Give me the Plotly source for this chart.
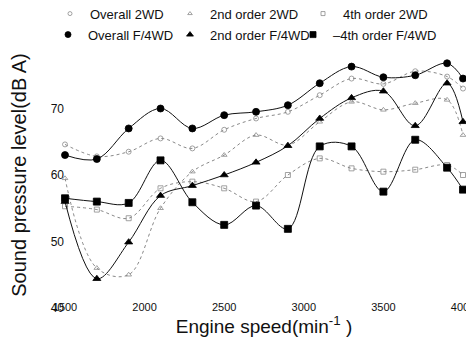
import plotly.graph_objects as go

rpm = [1500, 1700, 1900, 2100, 2300, 2500, 2700, 2900, 3100, 3300, 3500, 3700, 3900, 4000]

overall_2wd = [64.6, 62.8, 63.5, 65.5, 64.0, 66.8, 68.5, 69.5, 72.0, 74.5, 73.7, 75.6, 74.8, 73.0]
order2_2wd = [59.5, 46.0, 45.0, 55.0, 60.5, 63.0, 66.0, 64.5, 68.0, 71.0, 69.8, 70.8, 71.3, 66.0]
order4_2wd = [55.3, 54.8, 53.5, 58.0, 59.0, 58.0, 56.0, 60.0, 62.5, 61.0, 60.5, 60.8, 61.5, 60.0]

overall_f4wd = [63.0, 62.4, 67.0, 70.0, 67.0, 69.0, 69.5, 70.5, 73.8, 76.3, 74.7, 75.0, 76.8, 74.5]
order2_f4wd = [56.0, 44.4, 49.9, 56.9, 58.4, 60.0, 61.9, 64.4, 68.5, 71.6, 72.6, 67.4, 73.8, 68.0]
order4_f4wd = [56.5, 56.0, 55.8, 62.2, 55.9, 52.5, 55.4, 51.9, 64.3, 64.3, 57.5, 65.3, 61.1, 57.8]

names = ["Overall 2WD", "2nd order 2WD", "4th order 2WD",
         "Overall F/4WD", "2nd order F/4WD", "\u20134th order F/4WD"]
series = [overall_2wd, order2_2wd, order4_2wd, overall_f4wd, order2_f4wd, order4_f4wd]
symbols = ["circle-open", "triangle-up-open", "square-open", "circle", "triangle-up", "square"]

fig = go.Figure()
for i, (nm, ys, sym) in enumerate(zip(names, series, symbols)):
    is2wd = i < 3
    col = "#8a8a8a" if is2wd else "#000000"
    fig.add_trace(go.Scatter(
        x=rpm, y=ys, name=nm, mode="lines+markers", showlegend=False,
        line=dict(shape="spline", smoothing=1.0, color="#6a6a6a" if is2wd else "#111111",
                  width=0.8 if is2wd else 1.0, dash="dot" if is2wd else "solid"),
        marker=dict(symbol=sym, size=5 if is2wd else 7, color=col,
                    line=dict(width=0.8, color=col)),
        cliponaxis=False,
    ))

# legend entries (marker only, as in the reference legend), one legend box per entry
leg_ids = ["legend", "legend2", "legend3", "legend4", "legend5", "legend6"]
for i, (nm, sym) in enumerate(zip(names, symbols)):
    is2wd = i < 3
    col = "#8a8a8a" if is2wd else "#000000"
    fig.add_trace(go.Scatter(
        x=[None], y=[None], name=nm, mode="markers", legend=leg_ids[i],
        marker=dict(symbol=sym, size=4 if is2wd else 6, color=col,
                    line=dict(width=0.8, color=col)),
    ))

leg_common = dict(orientation="h", xanchor="left", yanchor="top", itemwidth=30,
                  font=dict(size=13), bgcolor="rgba(0,0,0,0)")
leg_x = [-0.0377, 0.2638, 0.598, -0.0427, 0.2638, 0.5729]
leg_y = [1.163, 1.163, 1.163, 1.084, 1.084, 1.084]
legend_layout = {lid: dict(x=lx, y=ly, **leg_common) for lid, lx, ly in zip(leg_ids, leg_x, leg_y)}

fig.update_layout(
    width=474, height=352,
    margin=dict(l=57, r=19, t=34, b=52, autoexpand=False),
    paper_bgcolor="white", plot_bgcolor="white",
    font=dict(family="Liberation Sans, Arial, sans-serif", color="#111111"),
    showlegend=True,
    xaxis=dict(range=[1500, 4000], tickvals=[1500, 2000, 2500, 3000, 3500, 4000],
               showgrid=False, zeroline=False, showline=False, ticks="",
               tickfont=dict(size=11), automargin=False, ticklabelstandoff=-9,
               title=dict(text="Engine speed(min<sup>-1</sup> )", font=dict(size=19), standoff=0)),
    yaxis=dict(range=[40, 80], tickvals=[40, 50, 60, 70],
               showgrid=False, zeroline=False, showline=False, ticks="",
               tickfont=dict(size=12), automargin=False,
               title=dict(text="Sound pressure level(dB A)", font=dict(size=20), standoff=21)),
    **legend_layout,
)

fig.write_html("out.html")
